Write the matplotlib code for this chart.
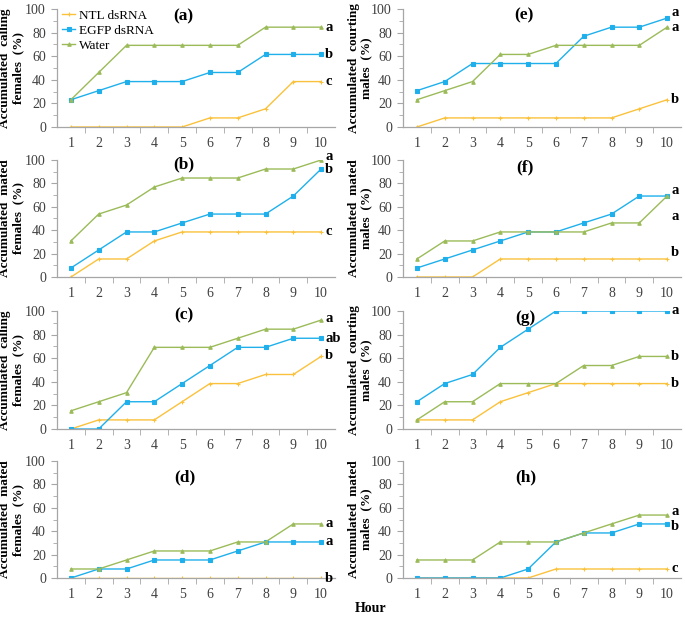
import matplotlib
matplotlib.use("Agg")
import matplotlib.pyplot as plt
from matplotlib.ticker import MultipleLocator, FixedLocator

plt.rcParams['font.family'] = ['Liberation Serif', 'DejaVu Serif']

hours = [1, 2, 3, 4, 5, 6, 7, 8, 9, 10]
series_names = ["NTL dsRNA", "EGFP dsRNA", "Water"]

# panel data: NTL, EGFP, Water
a_ntl = [0, 0, 0, 0, 0, 7.7, 7.7, 15.4, 38.5, 38.5]
a_egfp = [23.1, 30.8, 38.5, 38.5, 38.5, 46.2, 46.2, 61.5, 61.5, 61.5]
a_water = [23.1, 46.2, 69.2, 69.2, 69.2, 69.2, 69.2, 84.6, 84.6, 84.6]

b_ntl = [0, 15.4, 15.4, 30.8, 38.5, 38.5, 38.5, 38.5, 38.5, 38.5]
b_egfp = [7.7, 23.1, 38.5, 38.5, 46.2, 53.8, 53.8, 53.8, 69.2, 92.3]
b_water = [30.8, 53.8, 61.5, 76.9, 84.6, 84.6, 84.6, 92.3, 92.3, 100]

c_ntl = [0, 7.7, 7.7, 7.7, 23.1, 38.5, 38.5, 46.2, 46.2, 61.5]
c_egfp = [0, 0, 23.1, 23.1, 38.5, 53.8, 69.2, 69.2, 76.9, 76.9]
c_water = [15.4, 23.1, 30.8, 69.2, 69.2, 69.2, 76.9, 84.6, 84.6, 92.3]

d_ntl = [0, 0, 0, 0, 0, 0, 0, 0, 0, 0]
d_egfp = [0, 7.7, 7.7, 15.4, 15.4, 15.4, 23.1, 30.8, 30.8, 30.8]
d_water = [7.7, 7.7, 15.4, 23.1, 23.1, 23.1, 30.8, 30.8, 46.2, 46.2]

e_ntl = [0, 7.7, 7.7, 7.7, 7.7, 7.7, 7.7, 7.7, 15.4, 23.1]
e_egfp = [30.8, 38.5, 53.8, 53.8, 53.8, 53.8, 76.9, 84.6, 84.6, 92.3]
e_water = [23.1, 30.8, 38.5, 61.5, 61.5, 69.2, 69.2, 69.2, 69.2, 84.6]

f_ntl = [0, 0, 0, 15.4, 15.4, 15.4, 15.4, 15.4, 15.4, 15.4]
f_egfp = [7.7, 15.4, 23.1, 30.8, 38.5, 38.5, 46.2, 53.8, 69.2, 69.2]
f_water = [15.4, 30.8, 30.8, 38.5, 38.5, 38.5, 38.5, 46.2, 46.2, 69.2]

g_ntl = [7.7, 7.7, 7.7, 23.1, 30.8, 38.5, 38.5, 38.5, 38.5, 38.5]
g_egfp = [23.1, 38.5, 46.2, 69.2, 84.6, 100, 100, 100, 100, 100]
g_water = [7.7, 23.1, 23.1, 38.5, 38.5, 38.5, 53.8, 53.8, 61.5, 61.5]

h_ntl = [0, 0, 0, 0, 0, 7.7, 7.7, 7.7, 7.7, 7.7]
h_egfp = [0, 0, 0, 0, 7.7, 30.8, 38.5, 38.5, 46.2, 46.2]
h_water = [15.4, 15.4, 15.4, 30.8, 30.8, 30.8, 38.5, 46.2, 53.8, 53.8]

panel_tags = ["(a)", "(b)", "(c)", "(d)", "(e)", "(f)", "(g)", "(h)"]
ylabels = ["Accumulated  calling\nfemales  (%)", "Accumulated  mated\nfemales  (%)",
           "Accumulated  calling\nfemales  (%)", "Accumulated  mated\nfemales  (%)",
           "Accumulated  courting\nmales  (%)", "Accumulated  mated\nmales  (%)",
           "Accumulated  courting\nmales  (%)", "Accumulated  mated\nmales  (%)"]
# significance letters (letter, y position)
sig_letters = [
    [("a", 84.6), ("b", 61.5), ("c", 38.5)],
    [("a", 103), ("b", 92), ("c", 38.5)],
    [("a", 94), ("ab", 77), ("b", 62)],
    [("a", 46.2), ("a", 30.8), ("b", 0)],
    [("a", 97), ("a", 84), ("b", 23.1)],
    [("a", 74), ("a", 52), ("b", 21)],
    [("a", 100), ("b", 61.5), ("b", 38.5)],
    [("a", 57), ("b", 44), ("c", 8)],
]
tag_pos = [(5.05, 94), (5.05, 96), (5.05, 96), (5.1, 86),
           (4.85, 95), (4.9, 94), (4.9, 94), (4.9, 86)]

panels = [
    (a_ntl, a_egfp, a_water), (b_ntl, b_egfp, b_water),
    (c_ntl, c_egfp, c_water), (d_ntl, d_egfp, d_water),
    (e_ntl, e_egfp, e_water), (f_ntl, f_egfp, f_water),
    (g_ntl, g_egfp, g_water), (h_ntl, h_egfp, h_water),
]

colors = ["#FAC23C", "#1FB0EC", "#9BBB59"]
markers = ["+", "s", "^"]
msizes = [3, 2.5, 2.5]

fig = plt.figure(figsize=(6.85, 6.18), dpi=100)
lefts = [57 / 685, 403 / 685]
width = 278 / 685
rows = [(9, 127), (160, 277), (311, 429), (461, 578)]
axis_gray = "#A6A6A6"
text_gray = "#404040"

for i, data in enumerate(panels):
    col = i // 4
    row = i % 4
    top, bot = rows[row]
    ax = fig.add_axes([lefts[col], 1 - bot / 618, width, (bot - top) / 618])
    for j, vals in enumerate(data):
        ax.plot(hours, vals, color=colors[j], lw=1.0, marker=markers[j],
                ms=msizes[j], mew=0.8, label=series_names[j])
    ax.set_xlim(0.5, 10.5)
    ax.set_ylim(0, 100)
    ax.set_xticks(hours)
    ax.set_xticklabels([str(h) for h in hours])
    ax.xaxis.set_minor_locator(FixedLocator([k + 0.5 for k in range(1, 10)]))
    ax.yaxis.set_major_locator(MultipleLocator(20))
    ax.yaxis.set_minor_locator(MultipleLocator(10))
    ax.tick_params(axis='x', which='major', length=0, pad=7, labelsize=10, labelcolor=text_gray)
    ax.tick_params(axis='x', which='minor', length=4, color=axis_gray, direction='out')
    ax.tick_params(axis='y', which='major', length=4, color=axis_gray, labelsize=10,
                   labelcolor=text_gray, pad=4)
    ax.tick_params(axis='y', which='minor', length=3, color=axis_gray)
    for s in ["top", "right"]:
        ax.spines[s].set_visible(False)
    for s in ["left", "bottom"]:
        ax.spines[s].set_color(axis_gray)
        ax.spines[s].set_linewidth(0.9)
    ax.patch.set_alpha(0)
    ax.set_ylabel(ylabels[i], fontsize=9.5, fontweight='bold', linespacing=1.1)
    ax.yaxis.set_label_coords(-0.118 if col == 0 else -0.11, 0.5)
    tx, ty = tag_pos[i]
    ax.text(tx, ty, panel_tags[i], fontsize=12.5, fontweight='bold', ha='center', va='center')
    for letter, ly in sig_letters[i]:
        ax.text(10.15, ly, letter, fontsize=10.5, fontweight='bold', ha='left', va='center',
                clip_on=False)
    if i == 0:
        ax.legend(loc='upper left', bbox_to_anchor=(0.0, 1.04), frameon=False, fontsize=9.5,
                  handlelength=1.0, handletextpad=0.25, labelspacing=0.2, borderpad=0.2,
                  borderaxespad=0.2)

fig.text(371 / 685, 1 - 609 / 618, "Hour", fontsize=10, fontweight='bold', ha='center', va='center')

fig.savefig("out.png", dpi=100)
